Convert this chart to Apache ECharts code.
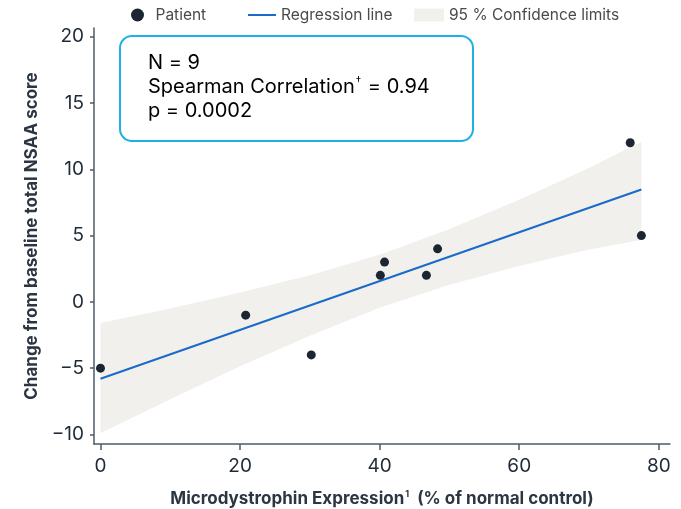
<!DOCTYPE html>
<html><head><meta charset="utf-8">
<script src="https://cdn.jsdelivr.net/npm/echarts@6/dist/echarts.min.js"></script>
<style>html,body{margin:0;padding:0;background:#fff}#c{width:681px;height:509px}</style>
</head><body><div id="c"></div>
<script>
// ---- data ----
const patientX = [0, 20.8, 30.2, 40.1, 40.7, 46.7, 48.3, 75.9, 77.5];
const patientY = [-5, -1, -4, 2, 3, 2, 4, 12, 5];
const regressionX = [0, 77.5];
const regressionY = [-5.8, 8.48];
const bandX = [0, 10, 20, 30, 40, 50, 60, 70, 77.5];
const bandUpper = [-1.6, -0.5, 0.7, 2.0, 3.55, 5.5, 7.7, 10.1, 12.08];
const bandLower = [-9.9, -7.35, -4.85, -2.55, -0.45, 1.3, 2.7, 3.95, 4.66];
const xTicks = [0, 20, 40, 60, 80];
const yTicks = [-10, -5, 0, 5, 10, 15, 20];
const statN = 'N = 9';
const statRho = '0.94';
const statP = 'p = 0.0002';

const FONT = 'Inter, "Noto Sans", sans-serif';
const AXIS_COLOR = '#4f5a66';
const TEXT_DARK = '#1f2a36';

const chart = echarts.init(document.getElementById('c'), null, {renderer: 'canvas'});

const legendText = {fontSize: 15.5, color: '#4a4a4a', fontFamily: FONT};

const option = {
  backgroundColor: '#ffffff',
  animation: false,
  textStyle: {fontFamily: FONT},
  grid: {left: 94, right: 11, top: 28, bottom: 65, containLabel: false, outerBoundsMode: 'none'},
  legend: [
    {left: 126, top: 2, itemWidth: 26, itemHeight: 13, textStyle: legendText,
     data: [{name: 'Patient', icon: 'circle'}]},
    {left: 243, top: 2, itemWidth: 28, itemHeight: 2, textStyle: legendText,
     data: [{name: 'Regression line', icon: 'rect'}]},
    {left: 409, top: 2, itemWidth: 30, itemHeight: 13, textStyle: legendText,
     data: [{name: '95 % Confidence limits', icon: 'rect'}]}
  ],
  xAxis: {
    type: 'value', min: -0.93, max: 81.6,
    splitLine: {show: false},
    axisLine: {show: true, onZero: false, lineStyle: {color: AXIS_COLOR, width: 1.5}},
    axisTick: {show: true, length: 6, customValues: xTicks, lineStyle: {color: AXIS_COLOR, width: 1.5}},
    axisLabel: {customValues: xTicks, fontSize: 19, color: TEXT_DARK, margin: 13, fontFamily: FONT},
    name: '{b|Microdystrophin Expression}{s|1}{b|  (% of normal control)}',
    nameLocation: 'middle', nameGap: 46,
    nameTextStyle: {
      rich: {
        b: {fontSize: 17, fontWeight: 'bold', color: '#2c3642', fontFamily: FONT},
        s: {fontSize: 9, fontWeight: 'bold', color: '#2c3642', fontFamily: FONT, verticalAlign: 'top', padding: [0, 0, 9, 1]}
      }
    }
  },
  yAxis: {
    type: 'value', min: -10.72, max: 20.66,
    splitLine: {show: false},
    axisLine: {show: true, onZero: false, lineStyle: {color: AXIS_COLOR, width: 1.5}},
    axisTick: {show: true, length: 4, customValues: yTicks, lineStyle: {color: AXIS_COLOR, width: 1.5}},
    axisLabel: {customValues: yTicks, fontSize: 19, color: TEXT_DARK, margin: 10, fontFamily: FONT,
      formatter: v => (v < 0 ? '\u2212' + Math.abs(v) : String(v))},
    name: 'Change from baseline total NSAA score',
    nameLocation: 'middle', nameGap: 48, nameRotate: 90,
    nameTextStyle: {fontSize: 17, fontWeight: 'bold', color: '#2c3642', fontFamily: FONT}
  },
  series: [
    {
      name: '95 % Confidence limits',
      type: 'custom',
      itemStyle: {color: '#f1f0ed'},
      z: 1,
      data: [[bandX[0], bandUpper[0]]],
      renderItem: function (params, api) {
        const pts = [];
        for (let i = 0; i < bandX.length; i++) pts.push(api.coord([bandX[i], bandUpper[i]]));
        for (let i = bandX.length - 1; i >= 0; i--) pts.push(api.coord([bandX[i], bandLower[i]]));
        return {type: 'polygon', shape: {points: pts}, style: {fill: '#f1f0ed'}};
      }
    },
    {
      name: 'Regression line',
      type: 'line',
      symbol: 'none',
      z: 3,
      itemStyle: {color: '#1a6bc8'},
      lineStyle: {color: '#1a6bc8', width: 2},
      data: regressionX.map((x, i) => [x, regressionY[i]])
    },
    {
      name: 'Patient',
      type: 'scatter',
      symbolSize: 9,
      z: 4,
      itemStyle: {color: '#1c2633', opacity: 1},
      data: patientX.map((x, i) => [x, patientY[i]])
    }
  ],
  graphic: [
    {
      type: 'rect', left: 119, top: 35, z: 10,
      shape: {width: 353, height: 105, r: 12},
      style: {fill: '#ffffff', stroke: '#1fb0e6', lineWidth: 2}
    },
    {
      type: 'text', left: 148, top: 53, z: 11,
      style: {
        text: '{a|' + statN + '}\n{a|Spearman Correlation}{s|\u2020}{a| = ' + statRho + '}\n{a|' + statP + '}',
        fontFamily: FONT,
        rich: {
          a: {fontSize: 20, color: '#3b4047', lineHeight: 24, fontFamily: FONT},
          s: {fontSize: 11, color: '#3b4047', lineHeight: 24, fontFamily: FONT, verticalAlign: 'top', padding: [0, 1, 0, 1]}
        }
      }
    }
  ]
};
chart.setOption(option);
</script>
</body></html>
